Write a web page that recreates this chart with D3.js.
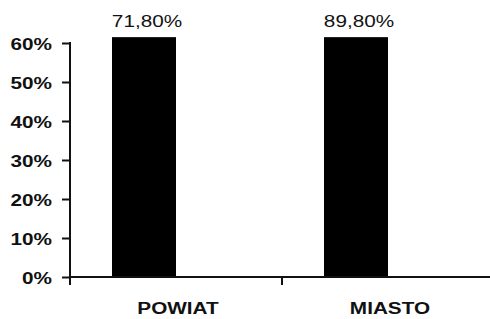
<!DOCTYPE html>
<html>
<head>
<meta charset="utf-8">
<script src="https://cdn.jsdelivr.net/npm/d3@7"></script>
<style>
  body { margin: 0; background: #fff; }
  text { font-family: "Liberation Sans", Arial, sans-serif; fill: #111; }
</style>
</head>
<body>
<div id="chart"></div>
<script>
// data
const categories = ["POWIAT", "MIASTO"];
const values = [0.718, 0.898];
const valueLabels = ["71,80%", "89,80%"];
const yTicks = [0, 0.1, 0.2, 0.3, 0.4, 0.5, 0.6];

const W = 490, H = 319;
const stretch = 1.22; // text in the scan is wider than the font

const svg = d3.select("#chart").append("svg")
  .attr("width", W)
  .attr("height", H);

// scales
const y = d3.scaleLinear().domain([0, 0.6]).range([277, 43]);
const x = d3.scaleBand().domain(categories).range([70, 494]).padding(0);
const barW = 64;
const plotTop = y(0.615); // bars are cut off at top of plot area

// bars (first slot of each group, ending at the category centre)
svg.selectAll("rect.bar")
  .data(values)
  .enter()
  .append("rect")
  .attr("class", "bar")
  .attr("x", (d, i) => x(categories[i]) + x.bandwidth() / 2 - barW)
  .attr("y", (d) => Math.max(y(d), plotTop))
  .attr("width", barW)
  .attr("height", (d) => y(0) - Math.max(y(d), plotTop))
  .attr("fill", "#000");

// value labels
svg.selectAll("text.val")
  .data(valueLabels)
  .enter()
  .append("text")
  .attr("class", "val")
  .attr("text-anchor", "middle")
  .attr("font-size", 17)
  .attr("transform", (d, i) =>
    `translate(${x(categories[i]) + x.bandwidth() / 2 - barW / 2 + 3},27) scale(${stretch},1)`)
  .text((d) => d);

// Y axis
const yAxis = svg.append("g")
  .attr("transform", "translate(70,0)")
  .call(d3.axisLeft(y).tickValues(yTicks).tickSize(8).tickSizeOuter(0).tickFormat(d3.format(".0%")));
yAxis.select(".domain").attr("stroke", "#111").attr("stroke-width", 2).attr("d", "M0,42V285");
yAxis.selectAll(".tick line").attr("stroke", "#111").attr("stroke-width", 2);
yAxis.selectAll(".tick text")
  .attr("x", null).attr("dy", null)
  .attr("font-size", 17).attr("font-weight", "bold")
  .attr("text-anchor", "end")
  .attr("transform", `translate(-18,6) scale(${stretch},1)`);

// X axis line with ticks at category boundaries
svg.append("line")
  .attr("x1", 69).attr("x2", W)
  .attr("y1", y(0)).attr("y2", y(0))
  .attr("stroke", "#111").attr("stroke-width", 2);

svg.selectAll("line.xtick")
  .data(categories)
  .enter()
  .append("line")
  .attr("class", "xtick")
  .attr("x1", (d) => x(d)).attr("x2", (d) => x(d))
  .attr("y1", y(0)).attr("y2", y(0) + 8)
  .attr("stroke", "#111").attr("stroke-width", 2);

// category labels
svg.selectAll("text.cat")
  .data(categories)
  .enter()
  .append("text")
  .attr("class", "cat")
  .attr("text-anchor", "middle")
  .attr("font-size", 17)
  .attr("font-weight", "bold")
  .attr("transform", (d) => `translate(${x(d) + x.bandwidth() / 2 + 2},314) scale(${stretch},1)`)
  .text((d) => d);
</script>
</body>
</html>
